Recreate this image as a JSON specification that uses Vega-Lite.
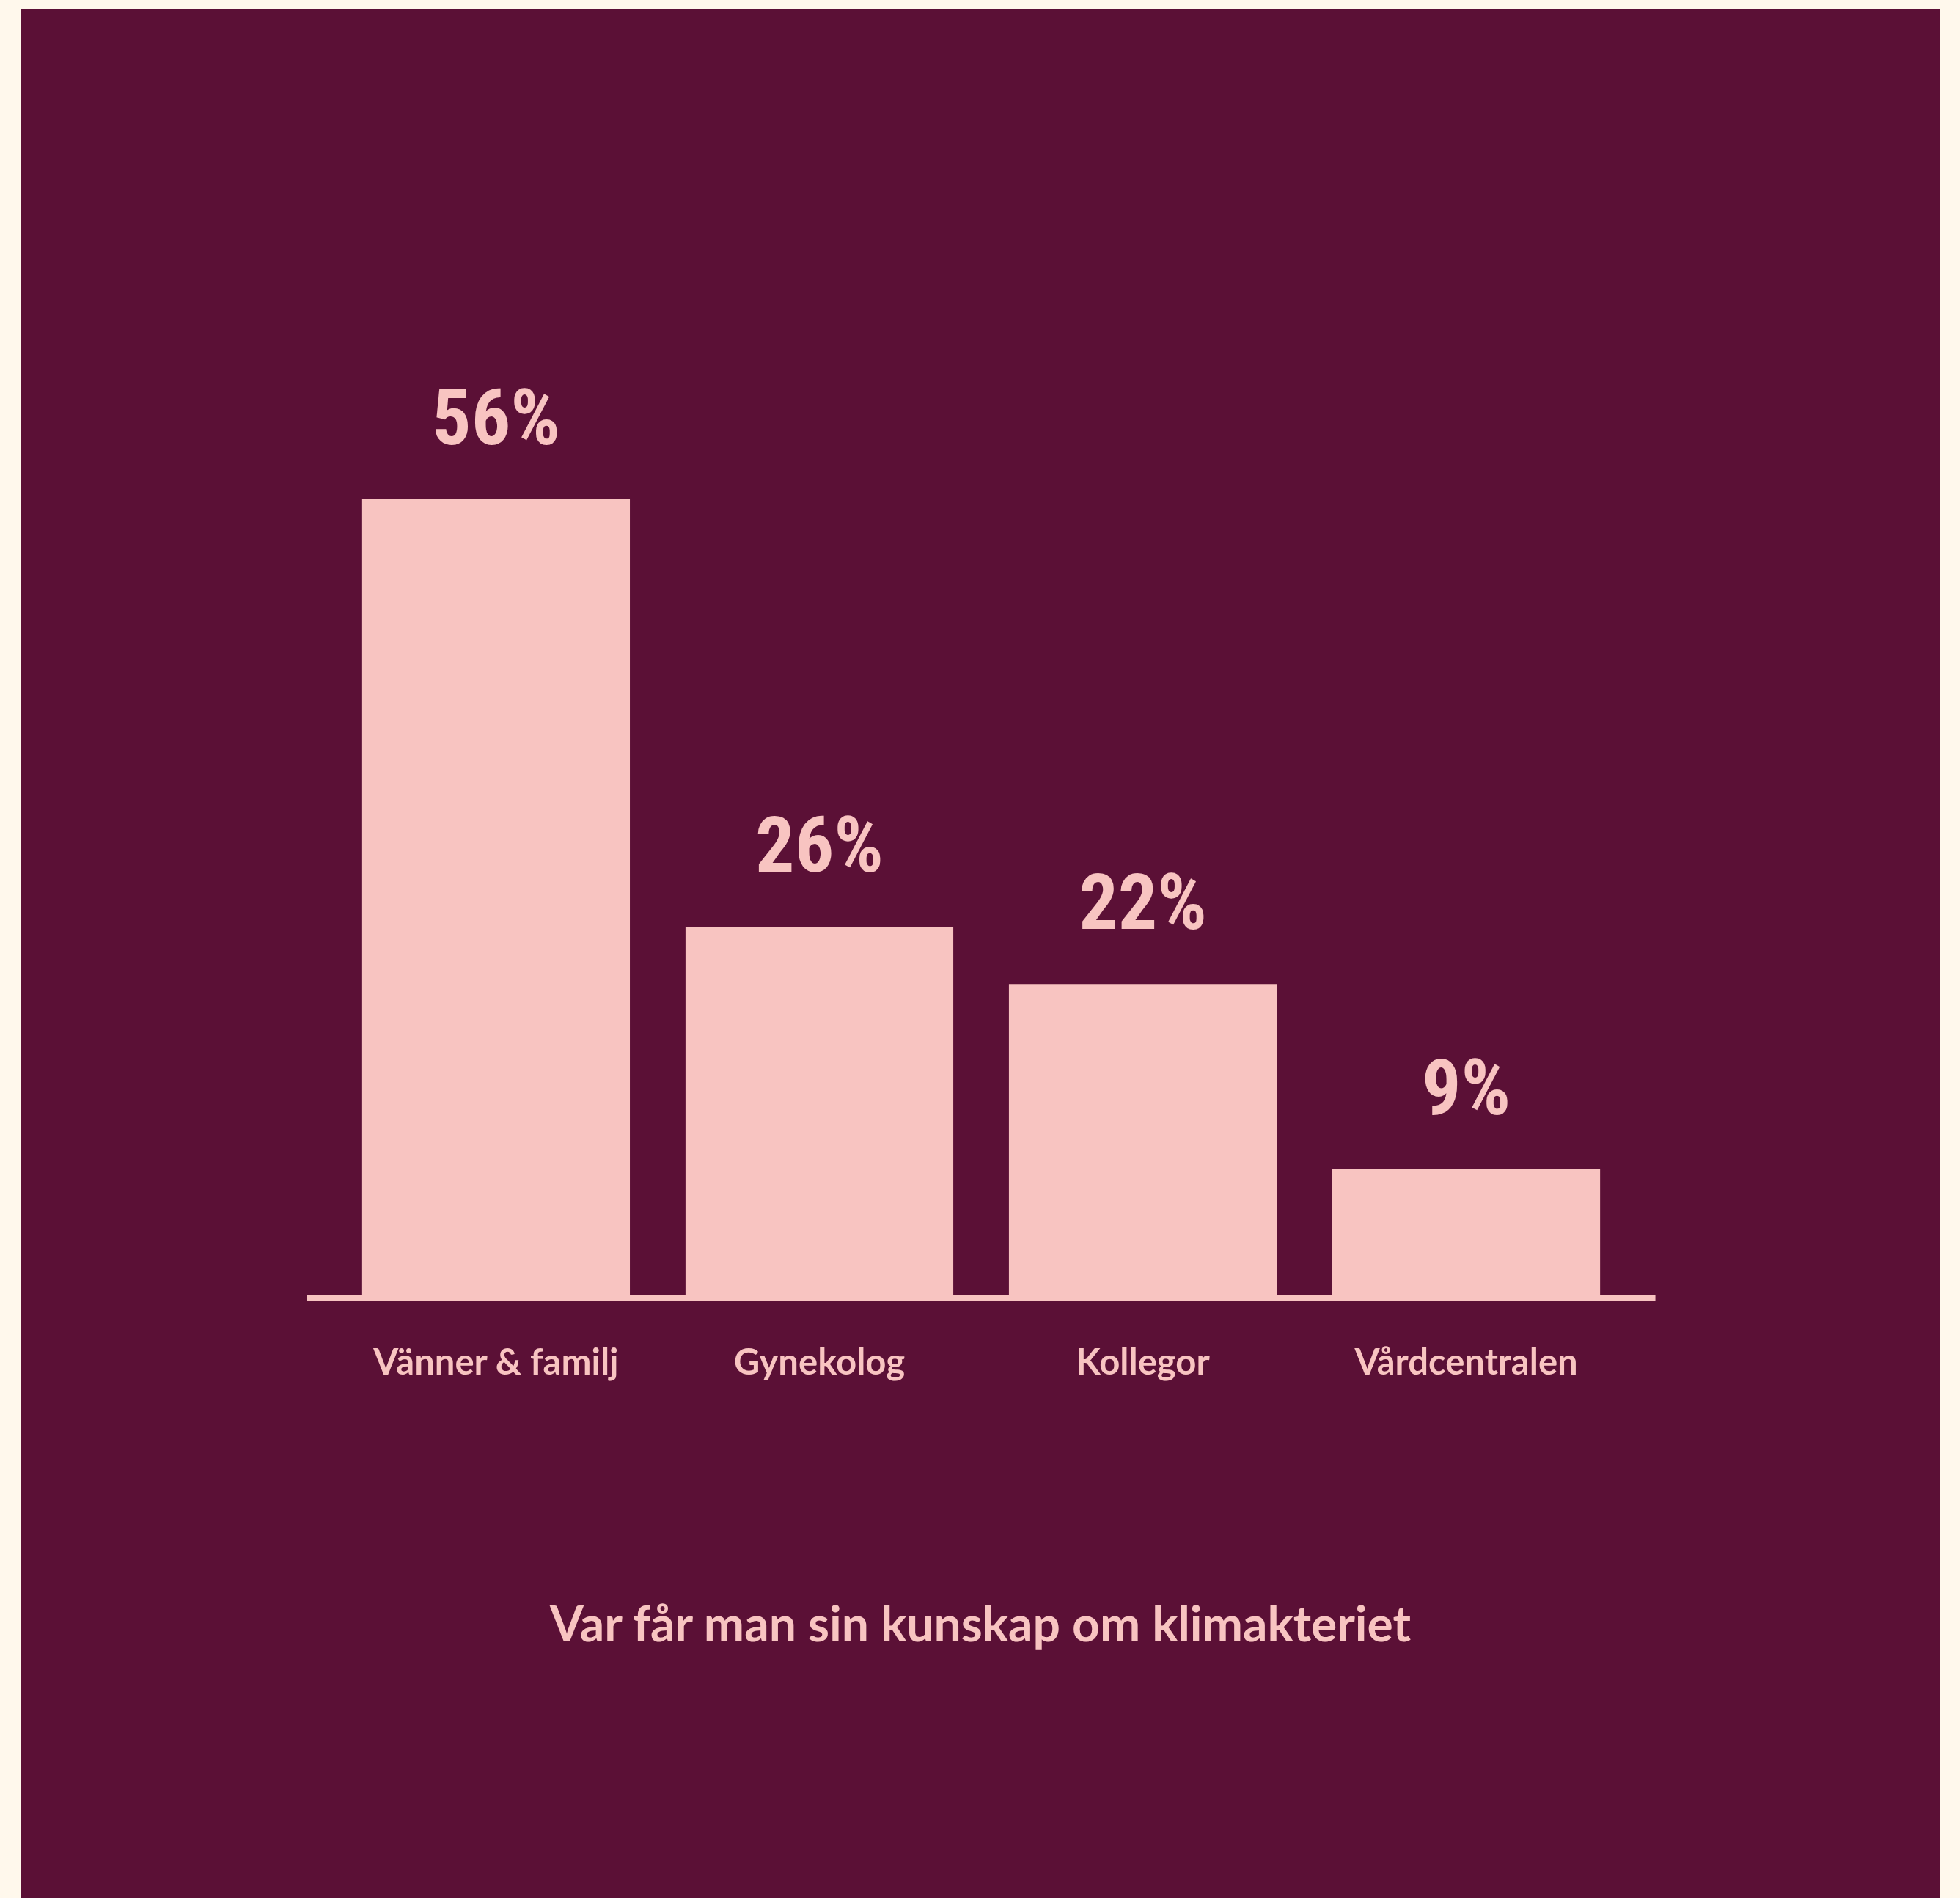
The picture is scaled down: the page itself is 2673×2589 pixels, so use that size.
{
  "$schema": "https://vega.github.io/schema/vega-lite/v6.json",
  "width": 2618,
  "height": 2577,
  "autosize": {"type": "none"},
  "padding": {"left": 28, "top": 12, "right": 27, "bottom": 0},
  "background": "#FFF8EC",
  "title": {
    "text": "Var får man sin kunskap om klimakteriet",
    "orient": "bottom",
    "anchor": "middle",
    "frame": "group",
    "offset": -350,
    "baseline": "alphabetic",
    "font": "Lato",
    "fontSize": 66,
    "fontWeight": "bold",
    "color": "#F8C4C1"
  },
  "data": {
    "values": [
      {"kalla": "Vänner & familj", "andel": 0.56},
      {"kalla": "Gynekolog", "andel": 0.26},
      {"kalla": "Kollegor", "andel": 0.22},
      {"kalla": "Vårdcentralen", "andel": 0.09}
    ]
  },
  "encoding": {
    "x": {
      "field": "kalla",
      "type": "nominal",
      "sort": null,
      "scale": {"range": [390, 2230], "paddingInner": 0.172, "paddingOuter": 0.172},
      "axis": {
        "title": null,
        "orient": "bottom",
        "offset": -819,
        "domain": false,
        "ticks": false,
        "tickSize": 0,
        "labelPadding": 104,
        "labelBaseline": "alphabetic",
        "labelAngle": 0,
        "labelLimit": 0,
        "labelFont": "Lato",
        "labelFontSize": 49,
        "labelFontWeight": "bold",
        "labelColor": "#F8C4C1"
      }
    }
  },
  "layer": [
    {
      "mark": {"type": "bar", "color": "#F8C4C1"},
      "encoding": {
        "y": {"field": "andel", "type": "quantitative", "scale": {"domain": [-0.421, 0.9039], "nice": false, "zero": false}, "axis": null},
        "y2": {"datum": 0}
      }
    },
    {
      "mark": {"type": "tick", "color": "#F8C4C1", "size": 516, "thickness": 8, "orient": "horizontal", "opacity": 1},
      "encoding": {
        "y": {"datum": 0, "type": "quantitative", "scale": {"domain": [-0.421, 0.9039], "nice": false, "zero": false}, "axis": null}
      }
    },
    {
      "mark": {"type": "text", "dy": -75, "baseline": "alphabetic", "align": "center", "font": "Roboto Condensed, Liberation Sans Narrow, DejaVu Sans Condensed, sans-serif", "fontWeight": "bold", "fontSize": 106, "color": "#F8C4C1"},
      "encoding": {
        "y": {"field": "andel", "type": "quantitative", "scale": {"domain": [-0.421, 0.9039], "nice": false, "zero": false}, "axis": null},
        "text": {"field": "andel", "type": "quantitative", "format": ".0%"}
      }
    }
  ],
  "config": {
    "view": {"fill": "#5B1036", "stroke": null}
  }
}
